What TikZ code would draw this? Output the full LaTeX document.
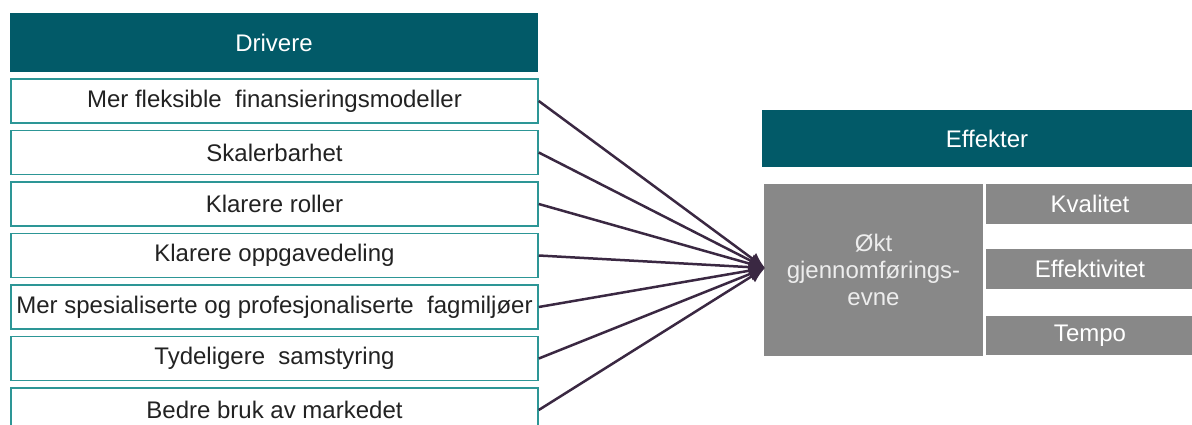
\documentclass[tikz,border=0pt]{standalone}
\usepackage{xcolor}
\usepackage{fontspec}
\setmainfont{Liberation Sans}
\usetikzlibrary{arrows.meta}
\definecolor{headteal}{RGB}{2,90,104}
\definecolor{rowteal}{RGB}{45,150,150}
\definecolor{effgray}{RGB}{136,136,136}
\definecolor{linkpurple}{RGB}{58,40,66}
\definecolor{rowtext}{RGB}{34,34,34}

\tikzset{
  bodyfont/.style={font=\fontsize{24}{27}\selectfont},
  headbox/.style={fill=headteal, text=white, inner sep=0pt, bodyfont},
  driverbox/.style={draw=rowteal, line width=1.5pt, fill=white, minimum width=527pt, minimum height=44pt, inner sep=0pt, text=rowtext, bodyfont},
  effbox/.style={fill=effgray, text=white, inner sep=0pt, align=center, bodyfont},
  link/.style={linkpurple, line width=2.5pt, -{Latex[length=16pt,width=14pt]}}
}

\begin{document}
\begin{tikzpicture}[x=1pt, y=-1pt]
\useasboundingbox (0,0) rectangle (1192,425);
\clip (0,0) rectangle (1192,425);

% Drivere
\node[headbox, minimum width=528pt, minimum height=59pt] (drivere) at (274,42.5) {Drivere};
\foreach \txt [count=\i] in {Mer fleksible\ \ finansieringsmodeller, Skalerbarhet, Klarere roller, Klarere oppgavedeling, Mer spesialiserte og profesjonaliserte\ \ fagmiljøer, Tydeligere\ \ samstyring, Bedre bruk av markedet}
  \node[driverbox] (drv\i) at (274.5,{101+(\i-1)*51.5}) {\txt};

% Effekter
\node[headbox, minimum width=450pt, minimum height=57pt] (effekter) at (987,138.5) {Effekter};
\node[effbox, minimum width=219pt, minimum height=172pt, text=white!93!black] (okt) at (873.5,270) {Økt\\gjennomførings-\\evne};
\node[effbox, minimum width=208pt, minimum height=40pt] (kvalitet) at (1090,204) {Kvalitet};
\node[effbox, minimum width=208pt, minimum height=40pt] (effektivitet) at (1090,269) {Effektivitet};
\node[effbox, minimum width=208pt, minimum height=39pt] (tempo) at (1090,335.5) {Tempo};

% Arrows
\coordinate (tip) at (765,268);
\foreach \i in {1,...,7}
  \draw[link] (drv\i.east) -- (tip);
\end{tikzpicture}
\end{document}
